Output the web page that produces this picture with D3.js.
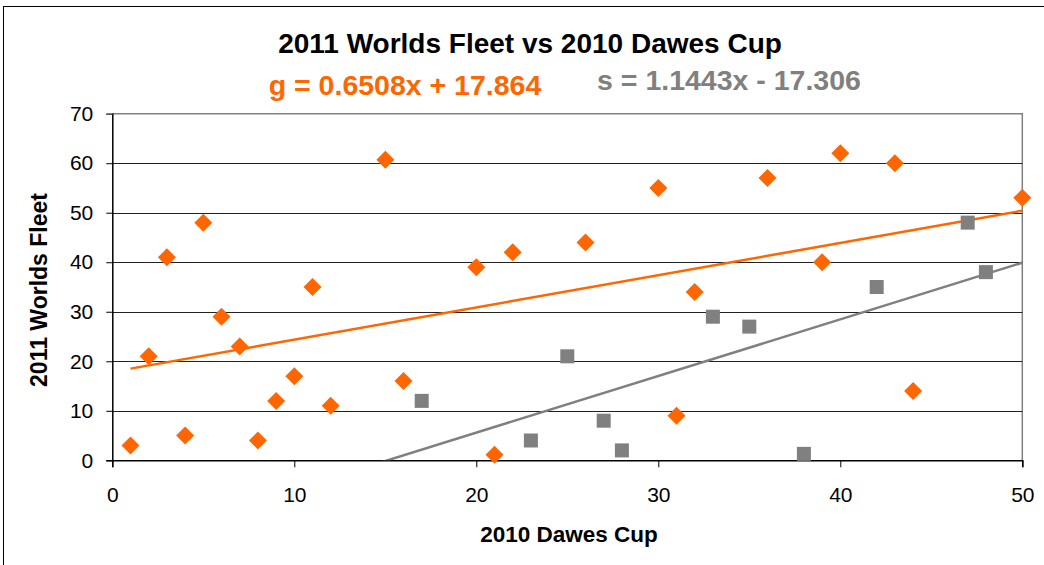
<!DOCTYPE html>
<html>
<head>
<meta charset="utf-8">
<script src="https://cdn.jsdelivr.net/npm/d3@7"></script>
<style>
  body { margin: 0; background: #fff; }
  text { font-family: "Liberation Sans", Arial, sans-serif; }
</style>
</head>
<body>
<svg width="1044" height="565"></svg>
<script>
// 2010 Dawes Cup place vs 2011 Worlds Fleet place
var gX = [1, 2, 3, 4, 5, 6, 7, 8, 9, 10, 11, 12, 15, 16, 20, 21, 22, 26, 30, 31, 32, 36, 39, 40, 43, 44, 50];
var gY = [3, 21, 41, 5, 48, 29, 23, 4, 12, 17, 35, 11, 60.7, 16, 39, 1.1, 42, 44, 55, 9, 34, 57, 40, 62, 60, 14, 53];
var sX = [17, 23, 25, 27, 28, 33, 35, 38, 42, 47, 48];
var sY = [12, 4, 21, 8, 2, 29, 27, 1.3, 35, 48, 38];
var gFit = {slope: 0.6508, intercept: 17.864};
var sFit = {slope: 1.1443, intercept: -17.306};
var xTicks = [0, 10, 20, 30, 40, 50];
var yTicks = [0, 10, 20, 30, 40, 50, 60, 70];

var svg = d3.select("svg");
var orange = "#ff6600", grey = "#808080";

// outer frame
svg.append("rect").attr("x", 3.5).attr("y", 6.5).attr("width", 1100).attr("height", 600)
    .attr("fill", "none").attr("stroke", "#000");

var pLeft = 112.3, pRight = 1022.3, pTop = 113.7, pBottom = 460.3;
var x = d3.scaleLinear().domain([0, 50]).range([pLeft, pRight]);
var y = d3.scaleLinear().domain([0, 70]).range([pBottom, pTop]);

// plot frame (top and right in grey)
svg.append("path")
    .attr("d", "M" + pLeft + "," + pTop + "H" + pRight + "V" + pBottom)
    .attr("fill", "none").attr("stroke", grey).attr("stroke-width", 1.5);

// gridlines
svg.append("g").selectAll("line")
    .data(yTicks.filter(function(d) { return d > 0 && d < 70; }))
    .enter().append("line")
    .attr("x1", pLeft).attr("x2", pRight)
    .attr("y1", function(d) { return Math.round(y(d)) + 0.5; })
    .attr("y2", function(d) { return Math.round(y(d)) + 0.5; })
    .attr("stroke", "#222").attr("stroke-width", 1);

// axes
var yAxis = svg.append("g").attr("transform", "translate(" + pLeft + ",0)")
    .call(d3.axisLeft(y).tickValues(yTicks).tickSize(6).tickPadding(13));
var xAxis = svg.append("g").attr("transform", "translate(0," + pBottom + ")")
    .call(d3.axisBottom(x).tickValues(xTicks).tickSize(7).tickPadding(20));
[xAxis, yAxis].forEach(function(a) {
  a.select(".domain").attr("stroke", "#000").attr("stroke-width", 1.5);
  a.selectAll(".tick line").attr("stroke", "#000");
  a.selectAll("text").attr("font-size", 21).attr("fill", "#000")
    .style("font-family", "'Liberation Sans', Arial, sans-serif");
});
yAxis.select(".tick:last-of-type line").attr("stroke", grey);

// trend lines clipped to plot area
svg.append("clipPath").attr("id", "clip").append("rect")
    .attr("x", pLeft).attr("y", pTop).attr("width", pRight - pLeft).attr("height", pBottom - pTop);
var trend = svg.append("g").attr("clip-path", "url(#clip)");
function fitLine(fit, xs, color) {
  var x0 = d3.min(xs), x1 = d3.max(xs);
  trend.append("line")
    .attr("x1", x(x0)).attr("y1", y(fit.slope * x0 + fit.intercept))
    .attr("x2", x(x1)).attr("y2", y(fit.slope * x1 + fit.intercept))
    .attr("stroke", color).attr("stroke-width", 2.5);
}
fitLine(gFit, gX, orange);
fitLine(sFit, [1, 50], grey);

// grey squares
svg.append("g").selectAll("rect")
    .data(d3.zip(sX, sY))
    .enter().append("rect")
    .attr("x", function(d) { return x(d[0]) - 7; })
    .attr("y", function(d) { return y(d[1]) - 7; })
    .attr("width", 14).attr("height", 14)
    .attr("fill", grey);

// orange diamonds
svg.append("g").selectAll("path")
    .data(d3.zip(gX, gY))
    .enter().append("path")
    .attr("d", "M0,-9L9,0L0,9L-9,0Z")
    .attr("transform", function(d) { return "translate(" + x(d[0]) + "," + y(d[1]) + ")"; })
    .attr("fill", orange);

// titles
svg.append("text").attr("x", 530).attr("y", 53).attr("text-anchor", "middle")
    .attr("font-size", 28).attr("font-weight", "bold").text("2011 Worlds Fleet vs 2010 Dawes Cup");
svg.append("text").attr("x", 405).attr("y", 95).attr("text-anchor", "middle")
    .attr("font-size", 28.5).attr("font-weight", "bold").attr("fill", orange)
    .text("g = " + gFit.slope + "x + " + gFit.intercept);
svg.append("text").attr("x", 729).attr("y", 90).attr("text-anchor", "middle")
    .attr("font-size", 28.5).attr("font-weight", "bold").attr("fill", grey)
    .text("s = " + sFit.slope + "x - " + Math.abs(sFit.intercept));
svg.append("text").attr("x", 569).attr("y", 542).attr("text-anchor", "middle")
    .attr("font-size", 22.5).attr("font-weight", "bold").text("2010 Dawes Cup");
svg.append("text").attr("transform", "translate(47,290) rotate(-90)").attr("text-anchor", "middle")
    .attr("font-size", 23).attr("font-weight", "bold").text("2011 Worlds Fleet");
</script>
</body>
</html>
